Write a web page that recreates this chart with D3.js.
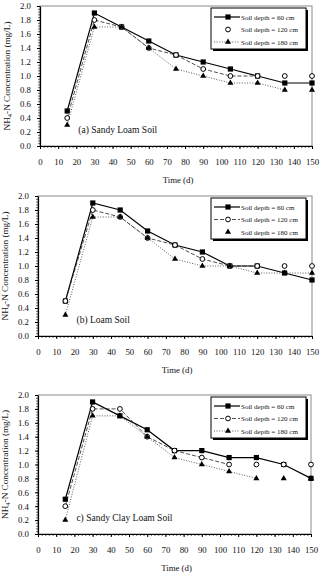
<!DOCTYPE html>
<html>
<head>
<meta charset="utf-8">
<script src="https://cdn.jsdelivr.net/npm/d3@7"></script>
<style>
  body { margin: 0; background: #fff; }
  svg text { font-family: "Liberation Serif", "Times New Roman", serif; fill: #111; }
</style>
</head>
<body>
<div id="root"></div>
<script>
// sampling days
const days = [15, 30, 45, 60, 75, 90, 105, 120, 135, 150];
const depthLabels = ["Soil depth = 60 cm", "Soil depth = 120 cm", "Soil depth = 180 cm"];
const soilTitles = ["(a) Sandy Loam Soil", "(b) Loam Soil", "c) Sandy Clay Loam Soil"];
const yTicks = [0, 0.2, 0.4, 0.6, 0.8, 1.0, 1.2, 1.4, 1.6, 1.8, 2.0];
const xTicks = [0, 10, 20, 30, 40, 50, 60, 70, 80, 90, 100, 110, 120, 130, 140, 150];

// NH4-N (mg/L) per soil and depth
const sandyLoam60  = [0.5, 1.9, 1.7, 1.5, 1.3, 1.2, 1.1, 1.0, 0.9, 0.9];
const sandyLoam120 = [0.4, 1.8, 1.7, 1.4, 1.3, 1.1, 1.0, 1.0, 1.0, 1.0];
const sandyLoam180 = [0.3, 1.7, 1.7, 1.4, 1.1, 1.0, 0.9, 0.9, 0.8, 0.8];

const loam60  = [0.5, 1.9, 1.8, 1.5, 1.3, 1.2, 1.0, 1.0, 0.9, 0.8];
const loam120 = [0.5, 1.8, 1.7, 1.4, 1.3, 1.1, 1.0, 1.0, 1.0, 1.0];
const loam180 = [0.3, 1.7, 1.7, 1.4, 1.1, 1.0, 1.0, 0.9, 0.9, 0.9];

const clayLoam60  = [0.5, 1.9, 1.7, 1.5, 1.2, 1.2, 1.1, 1.1, 1.0, 0.8];
const clayLoam120 = [0.4, 1.8, 1.8, 1.4, 1.2, 1.1, 1.0, 1.0, 1.0, 1.0];
const clayLoam180 = [0.2, 1.7, 1.7, 1.4, 1.1, 1.0, 0.9, 0.8, 0.8, 0.8];

// last day that each series is joined by a line (later points stand alone)
const sandyLoamLinked = [150, 120, 135];
const loamLinked = [150, 120, 150];
const clayLoamLinked = [150, 105, 120];

// whether the legend entry shows a line sample
const sandyLoamLegendLine = [true, false, true];
const loamLegendLine = [true, true, false];
const clayLoamLegendLine = [true, true, true];

const panels = [
  { title: soilTitles[0], series: [sandyLoam60, sandyLoam120, sandyLoam180], linked: sandyLoamLinked, legendLine: sandyLoamLegendLine,
    left: 40, right: 312, top: 6, bottom: 146 },
  { title: soilTitles[1], series: [loam60, loam120, loam180], linked: loamLinked, legendLine: loamLegendLine,
    left: 38, right: 312, top: 196, bottom: 336 },
  { title: soilTitles[2], series: [clayLoam60, clayLoam120, clayLoam180], linked: clayLoamLinked, legendLine: clayLoamLegendLine,
    left: 38, right: 311, top: 395, bottom: 534 }
];

const lineStyles = [
  { stroke: "#000", width: 1.2, dash: null },
  { stroke: "#222", width: 0.8, dash: "4,2" },
  { stroke: "#333", width: 0.8, dash: "1,1.6" }
];

const svg = d3.select("#root").append("svg")
  .attr("width", 320)
  .attr("height", 575);

function drawMarker(g, k, cx, cy) {
  if (k === 0) {
    g.append("rect").attr("x", cx - 2.6).attr("y", cy - 2.6).attr("width", 5.2).attr("height", 5.2)
      .attr("fill", "#000");
  } else if (k === 1) {
    g.append("circle").attr("cx", cx).attr("cy", cy).attr("r", 2.4)
      .attr("fill", "#fff").attr("stroke", "#000").attr("stroke-width", 1);
  } else {
    g.append("path").attr("transform", "translate(" + cx + "," + cy + ")")
      .attr("d", d3.symbol().type(d3.symbolTriangle).size(16)())
      .attr("fill", "#000");
  }
}

panels.forEach(function (p) {
  let x = d3.scaleLinear().domain([0, 150]).range([p.left, p.right]);
  let y = d3.scaleLinear().domain([0, 2]).range([p.bottom, p.top]);
  let g = svg.append("g");

  // plot area border
  g.append("rect")
    .attr("x", p.left).attr("y", p.top)
    .attr("width", p.right - p.left).attr("height", p.bottom - p.top)
    .attr("fill", "none").attr("stroke", "#8a8a8a").attr("stroke-width", 1);

  // x axis: minor then major
  g.append("g")
    .attr("transform", "translate(0," + p.bottom + ")")
    .call(d3.axisBottom(x).tickValues(d3.range(0, 151, 2)).tickSize(2).tickFormat(""))
    .call(a => a.select(".domain").remove())
    .call(a => a.selectAll("line").attr("stroke", "#000").attr("stroke-width", 0.6));
  let xa = g.append("g")
    .attr("transform", "translate(0," + p.bottom + ")")
    .call(d3.axisBottom(x).tickValues(xTicks).tickSize(3).tickPadding(10).tickSizeOuter(0));
  xa.select(".domain").attr("stroke", "#000").attr("stroke-width", 1.2);
  xa.selectAll("text").attr("font-size", 8.8).attr("font-family", "Liberation Serif");

  // y axis: minor then major
  g.append("g")
    .attr("transform", "translate(" + p.left + ",0)")
    .call(d3.axisLeft(y).tickValues(d3.range(0, 2.001, 0.04)).tickSize(2).tickFormat(""))
    .call(a => a.select(".domain").remove())
    .call(a => a.selectAll("line").attr("stroke", "#000").attr("stroke-width", 0.6));
  let ya = g.append("g")
    .attr("transform", "translate(" + p.left + ",0)")
    .call(d3.axisLeft(y).tickValues(yTicks).tickSize(3).tickPadding(6).tickSizeOuter(0).tickFormat(d3.format(".1f")));
  ya.select(".domain").attr("stroke", "#000").attr("stroke-width", 1.2);
  ya.selectAll("text").attr("font-size", 8.8).attr("font-family", "Liberation Serif");

  // axis titles
  g.append("text")
    .attr("x", (p.left + p.right) / 2 + 2)
    .attr("y", p.bottom + 37)
    .attr("text-anchor", "middle")
    .attr("font-size", 8.8)
    .text("Time (d)");

  let yt = g.append("text")
    .attr("transform", "translate(" + (p.left - 30) + "," + ((p.top + p.bottom) / 2) + ") rotate(-90)")
    .attr("text-anchor", "middle")
    .attr("font-size", 9.2);
  yt.append("tspan").text("NH");
  yt.append("tspan").attr("font-size", 6.5).attr("dy", 2).text("4");
  yt.append("tspan").attr("dy", -2).text("-N Concentration (mg/L)");

  // lines
  p.series.forEach(function (vals, k) {
    let pts = days.map((d, i) => ({ d: d, v: vals[i] })).filter(o => o.d <= p.linked[k]);
    let st = lineStyles[k];
    g.append("path")
      .datum(pts)
      .attr("fill", "none")
      .attr("stroke", st.stroke)
      .attr("stroke-width", st.width)
      .attr("stroke-dasharray", st.dash)
      .attr("d", d3.line().x(o => x(o.d)).y(o => y(o.v)));
  });

  // markers, squares below circles below triangles
  p.series.forEach(function (vals, k) {
    let mg = g.append("g");
    days.forEach(function (d, i) {
      drawMarker(mg, k, x(d), y(vals[i]));
    });
  });

  // soil label
  g.append("text")
    .attr("x", x(20) + 2)
    .attr("y", y(0.2) + 1)
    .attr("font-size", 9.5)
    .text(p.title);

  // legend
  let lx = 211, ly = p.top + 2, lw = 95, lh = 41;
  let lg = g.append("g");
  lg.append("rect").attr("x", lx + 2).attr("y", ly + 2).attr("width", lw).attr("height", lh).attr("fill", "#000");
  lg.append("rect").attr("x", lx).attr("y", ly).attr("width", lw).attr("height", lh)
    .attr("fill", "#fff").attr("stroke", "#000").attr("stroke-width", 1);
  depthLabels.forEach(function (lab, k) {
    let ry = ly + 9 + k * 12.5;
    let st = lineStyles[k];
    if (p.legendLine[k]) {
      lg.append("line").attr("x1", lx + 3).attr("x2", lx + 29).attr("y1", ry).attr("y2", ry)
        .attr("stroke", st.stroke).attr("stroke-width", st.width).attr("stroke-dasharray", st.dash);
    }
    drawMarker(lg, k, lx + 17, ry);
    lg.append("text")
      .attr("x", lx + 30)
      .attr("y", ry + 2.5)
      .attr("font-size", 7)
      .text(lab);
  });
});
</script>
</body>
</html>
